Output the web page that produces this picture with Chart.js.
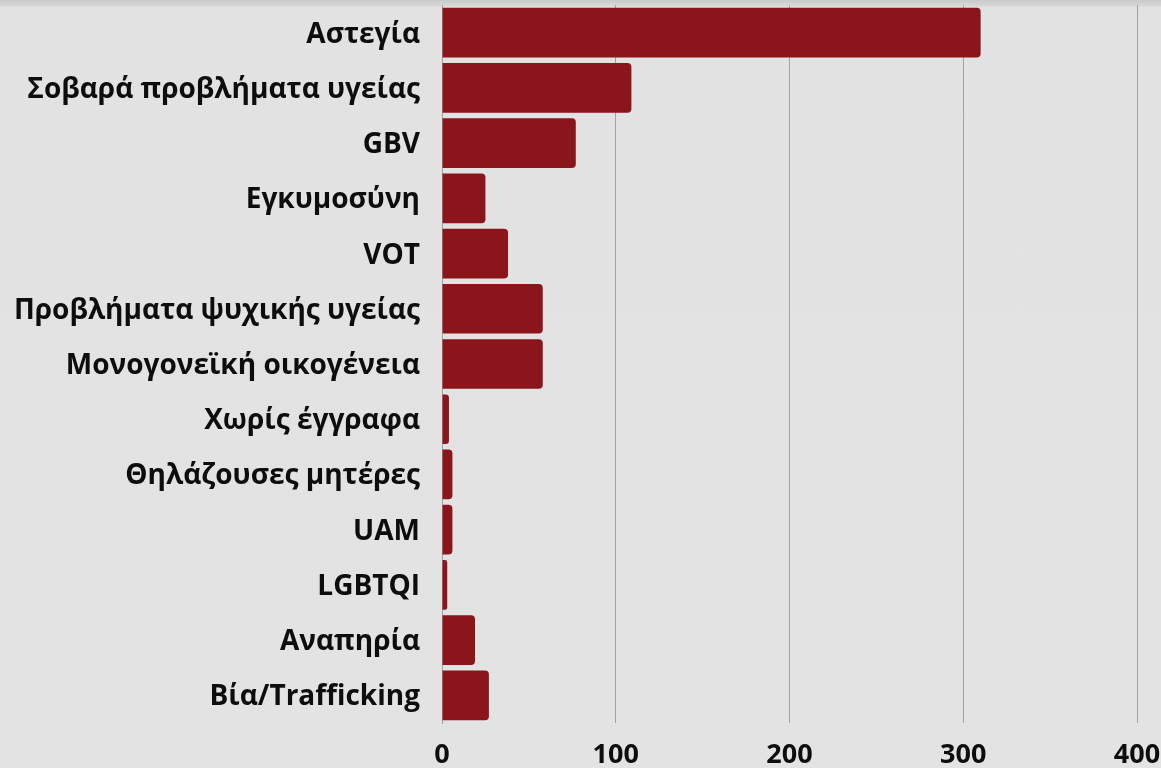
<!DOCTYPE html>
<html>
<head>
<meta charset="utf-8">
<script src="https://cdn.jsdelivr.net/npm/chart.js@4/dist/chart.umd.min.js"></script>
<style>
    html, body { margin: 0; padding: 0; }
    body {
        width: 1161px; height: 768px; overflow: hidden;
        background: linear-gradient(to bottom, #c9c9c9 0px, #d6d6d6 5px, #e2e2e2 8px, #e3e3e3 100%);
    }
    #wrap { position: relative; width: 1161px; height: 768px; }
</style>
</head>
<body>
<div id="wrap"><canvas id="myChart" width="1161" height="768"></canvas></div>
<script>
// categories, top to bottom
const categories = [
    'Αστεγία',
    'Σοβαρά προβλήματα υγείας',
    'GBV',
    'Εγκυμοσύνη',
    'VOT',
    'Προβλήματα ψυχικής υγείας',
    'Μονογονεϊκή οικογένεια',
    'Χωρίς έγγραφα',
    'Θηλάζουσες μητέρες',
    'UAM',
    'LGBTQI',
    'Αναπηρία',
    'Βία/Trafficking'
];
const counts = [310, 109, 77, 25, 38, 58, 58, 4, 6, 6, 3, 19, 27];
const xTicks = [0, 100, 200, 300, 400];

const ctx = document.getElementById('myChart');

new Chart(ctx, {
    type: 'bar',
    data: {
        labels: categories,
        datasets: [{
            label: 'Count',
            data: counts,
            backgroundColor: '#8a161c',
            borderRadius: 4,
            borderSkipped: 'start',
            barPercentage: 0.9,
            categoryPercentage: 1
        }]
    },
    options: {
        responsive: false,
        animation: false,
        indexAxis: 'y',
        layout: { padding: { top: 5, bottom: 0, left: 0, right: 0 } },
        plugins: {
            legend: { display: false },
            tooltip: { enabled: false }
        },
        scales: {
            x: {
                min: 0,
                max: 400,
                afterBuildTicks: function (scale) {
                    scale.ticks = xTicks.map(v => ({ value: v }));
                },
                afterFit: function (scale) {
                    scale.height = 45;
                    scale.paddingRight = 24;
                },
                grid: { color: '#a3a3a3', lineWidth: 1, drawTicks: false },
                border: { display: false },
                ticks: {
                    padding: 16,
                    color: '#0d0d0d',
                    font: { family: 'Open Sans', weight: 'bold', size: 27 }
                }
            },
            y: {
                afterFit: function (scale) {
                    scale.width = 442;
                    // no extra room for first/last label, bars fill the height
                    scale.paddingTop = 0;
                    scale.paddingBottom = 0;
                },
                grid: { display: false, drawTicks: false },
                border: { display: true, color: '#a3a3a3' },
                ticks: {
                    padding: 22,
                    labelOffset: 2,
                    color: '#0d0d0d',
                    font: { family: 'Open Sans', weight: 'bold', size: 28 }
                }
            }
        }
    }
});
</script>
</body>
</html>
